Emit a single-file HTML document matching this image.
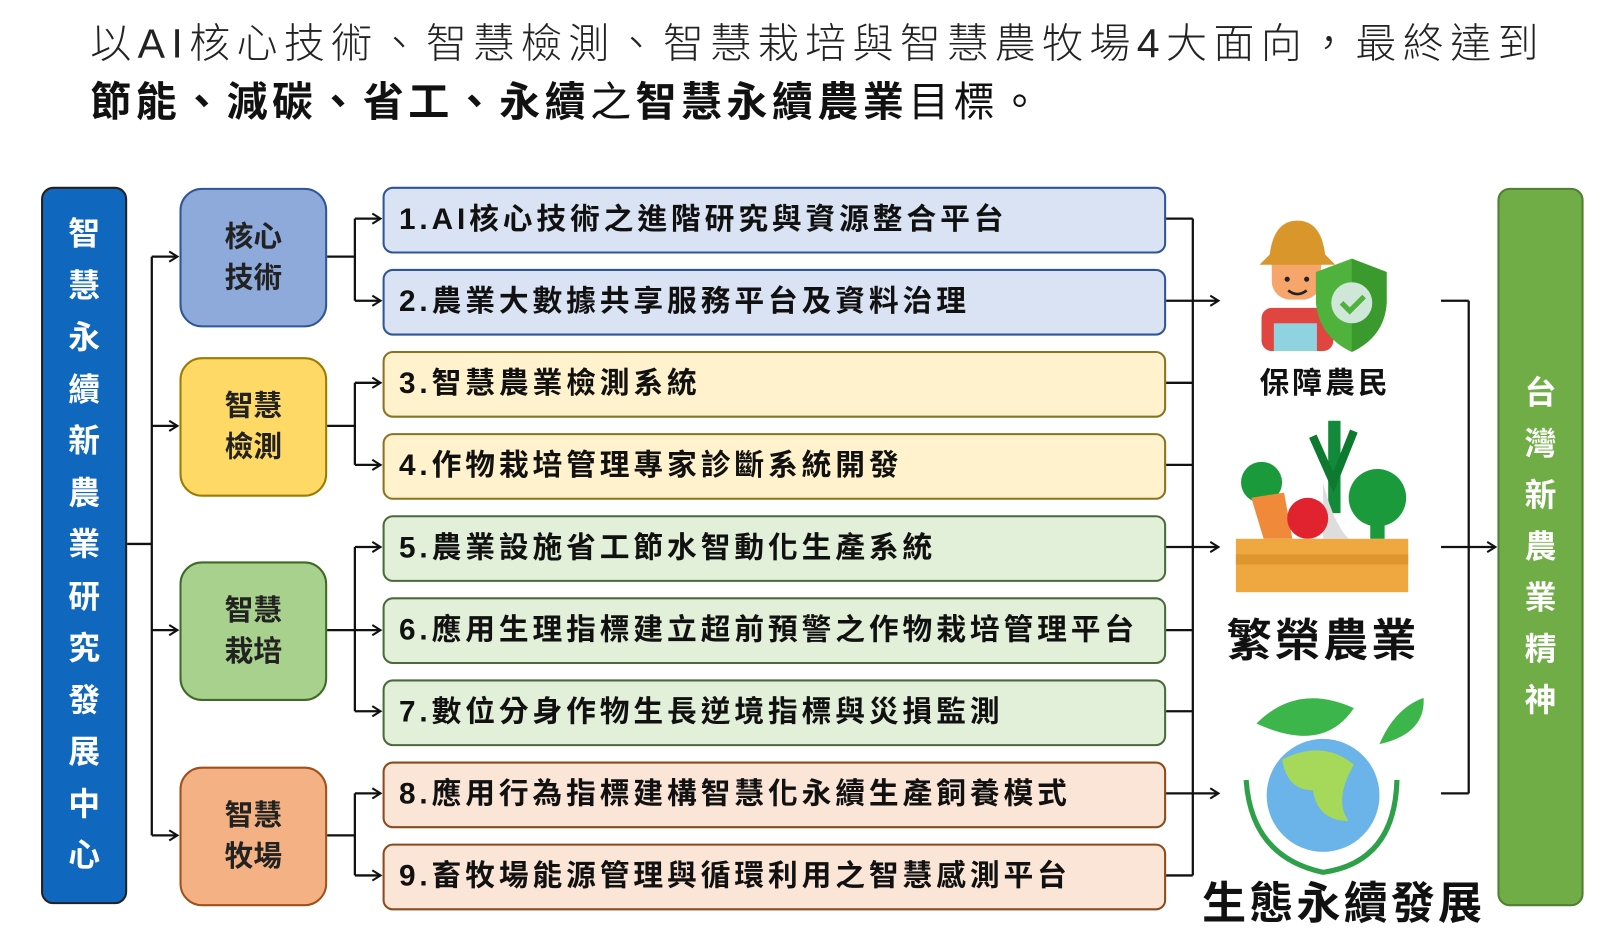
<!DOCTYPE html>
<html><head><meta charset="utf-8">
<style>
html,body{margin:0;padding:0;background:#fff;width:1600px;height:937px;overflow:hidden}
#w{position:absolute;left:0;top:0;width:1560px;height:913px;transform:scale(1.02564,1.0263);transform-origin:0 0;font-family:"Liberation Sans","Noto Sans CJK TC",sans-serif}
.a{position:absolute;box-sizing:border-box}
.t1{left:88px;top:18px;font-size:40px;font-weight:300;color:#222;white-space:nowrap;letter-spacing:6.2px;line-height:50px}
.t2{left:88px;top:75px;font-size:40px;color:#111;white-space:nowrap;line-height:50px;letter-spacing:4.3px}
.vb{border:2.5px solid #222;border-radius:12px;color:#fff;font-size:31px;font-weight:bold;text-align:center;display:flex;flex-direction:column;align-items:center;justify-content:center;line-height:50.5px}
.cat{left:175px;width:144px;height:136px;border:2.5px solid;border-radius:22px;display:flex;align-items:center;justify-content:center;text-align:center;font-size:28px;font-weight:bold;color:#222;line-height:40px}
.row{left:373px;width:764px;height:65px;border:2.5px solid;border-radius:10px;font-size:29px;font-weight:bold;color:#111;padding-left:14px;line-height:60px;white-space:nowrap;letter-spacing:3.8px}
.lab{font-weight:bold;color:#111;text-align:center;white-space:nowrap}
</style></head><body><div id="w">
<div class="a t1">以AI核心技術、智慧檢測、智慧栽培與智慧農牧場4大面向，最終達到</div>
<div class="a t2"><b>節能、減碳、省工、永續</b>之<b>智慧永續農業</b>目標。</div>

<div class="a vb" style="left:40px;top:182px;width:84px;height:699px;background:#1068be"><span>智</span><span>慧</span><span>永</span><span>續</span><span>新</span><span>農</span><span>業</span><span>研</span><span>究</span><span>發</span><span>展</span><span>中</span><span>心</span></div>
<div class="a vb" style="left:1460px;top:183px;width:84px;height:700px;background:#70ad47;border-color:#507e32;line-height:50px"><span>台</span><span>灣</span><span>新</span><span>農</span><span>業</span><span>精</span><span>神</span></div>

<div class="a cat" style="top:183px;background:#8eaadb;border-color:#2f5597">核心<br>技術</div>
<div class="a cat" style="top:348px;background:#ffd966;border-color:#9c7c00">智慧<br>檢測</div>
<div class="a cat" style="top:547px;background:#a9d18e;border-color:#3f6a26">智慧<br>栽培</div>
<div class="a cat" style="top:747px;background:#f4b183;border-color:#a0501a">智慧<br>牧場</div>

<div class="a row" style="top:182px;background:#dae3f3;border-color:#2f5597">1.AI核心技術之進階研究與資源整合平台</div>
<div class="a row" style="top:262px;background:#dae3f3;border-color:#2f5597">2.農業大數據共享服務平台及資料治理</div>
<div class="a row" style="top:342px;background:#fff2cc;border-color:#8a7220">3.智慧農業檢測系統</div>
<div class="a row" style="top:422px;background:#fff2cc;border-color:#8a7220">4.作物栽培管理專家診斷系統開發</div>
<div class="a row" style="top:502px;background:#e2f0d9;border-color:#4a6a3a">5.農業設施省工節水智動化生產系統</div>
<div class="a row" style="top:582px;background:#e2f0d9;border-color:#4a6a3a">6.應用生理指標建立超前預警之作物栽培管理平台</div>
<div class="a row" style="top:662px;background:#e2f0d9;border-color:#4a6a3a">7.數位分身作物生長逆境指標與災損監測</div>
<div class="a row" style="top:742px;background:#fbe5d6;border-color:#8a4a1c">8.應用行為指標建構智慧化永續生產飼養模式</div>
<div class="a row" style="top:822px;background:#fbe5d6;border-color:#8a4a1c">9.畜牧場能源管理與循環利用之智慧感測平台</div>

<svg class="a" style="left:0;top:0" width="1560" height="913">
<defs><marker id="m" markerWidth="12" markerHeight="12" refX="10" refY="6" orient="auto" markerUnits="userSpaceOnUse"><path d="M2,1 L10,6 L2,11" fill="none" stroke="#111" stroke-width="2"/></marker></defs>
<g stroke="#111" stroke-width="2.2" fill="none">
<path d="M124,530 H148 M148,250 V814"/>
<path d="M148,250 H173" marker-end="url(#m)"/><path d="M148,415 H173" marker-end="url(#m)"/><path d="M148,614 H173" marker-end="url(#m)"/><path d="M148,814 H173" marker-end="url(#m)"/>
<path d="M319,250 H346 M346,213 V293"/><path d="M346,213 H371" marker-end="url(#m)"/><path d="M346,293 H371" marker-end="url(#m)"/>
<path d="M319,415 H346 M346,373 V453"/><path d="M346,373 H371" marker-end="url(#m)"/><path d="M346,453 H371" marker-end="url(#m)"/>
<path d="M319,614 H346 M346,533 V693"/><path d="M346,533 H371" marker-end="url(#m)"/><path d="M346,614 H371" marker-end="url(#m)"/><path d="M346,693 H371" marker-end="url(#m)"/>
<path d="M319,814 H346 M346,773 V853"/><path d="M346,773 H371" marker-end="url(#m)"/><path d="M346,853 H371" marker-end="url(#m)"/>
<path d="M1137,213 H1163 M1137,373 H1163 M1137,453 H1163 M1137,614 H1163 M1137,693 H1163 M1137,853 H1163 M1163,213 V853"/>
<path d="M1137,293 H1188" marker-end="url(#m)"/><path d="M1137,533 H1188" marker-end="url(#m)"/><path d="M1137,773 H1188" marker-end="url(#m)"/>
<path d="M1405,293 H1432 M1405,773 H1432 M1432,293 V773"/><path d="M1405,533 H1458" marker-end="url(#m)"/>
</g>
<g>
<rect x="1230" y="300" width="70" height="42" rx="10" fill="#e0453f"/>
<rect x="1242" y="315" width="42" height="27" fill="#8fd3e0"/>
<rect x="1240" y="230" width="48" height="62" rx="18" fill="#f6a56b"/>
<path d="M1228,258 H1302 L1292,248 Q1288,215 1265,215 Q1242,215 1238,248 Z" fill="#d9962a"/>
<circle cx="1255" cy="272" r="2.5" fill="#222"/><circle cx="1274" cy="272" r="2.5" fill="#222"/>
<path d="M1256,283 Q1265,290 1274,283" stroke="#222" stroke-width="2.5" fill="none"/>
<path d="M1283,265 L1318,252 L1352,265 V295 Q1350,328 1318,343 Q1286,328 1283,295 Z" fill="#4fb23c"/>
<path d="M1318,252 L1352,265 V295 Q1350,328 1318,343 Z" fill="#3a9a2e"/>
<circle cx="1318" cy="295" r="20" fill="#cfe7d8"/>
<path d="M1308,295 L1316,303 L1330,289" stroke="#4fb23c" stroke-width="5" fill="none"/>
</g>
<g>
<rect x="1295" y="410" width="12" height="90" fill="#138a3a"/>
<path d="M1280,425 L1300,470 L1320,420" stroke="#0d7a30" stroke-width="8" fill="none"/>
<path d="M1290,470 Q1300,510 1315,525 H1290 Z" fill="#ddd"/>
<circle cx="1230" cy="470" r="20" fill="#1a9a3a"/>
<path d="M1220,485 L1252,480 L1260,525 H1232 Z" fill="#f08a3a"/>
<circle cx="1275" cy="505" r="20" fill="#e0232e"/>
<circle cx="1343" cy="485" r="28" fill="#1a9a3a"/><rect x="1336" y="500" width="14" height="25" fill="#1a9a3a"/>
<rect x="1205" y="525" width="168" height="52" fill="#efa83f"/>
<rect x="1205" y="540" width="168" height="10" fill="#e0962e"/>
</g>
<g>
<circle cx="1290" cy="775" r="55" fill="#6ab4ea"/>
<path d="M1250,740 Q1290,720 1320,745 Q1300,780 1315,800 Q1285,800 1280,770 Q1255,770 1250,740 Z" fill="#a6d85a"/>
<path d="M1215,760 Q1220,835 1290,850 Q1360,840 1362,760" stroke="#2fa04a" stroke-width="5" fill="none"/>
<path d="M1225,705 Q1265,665 1320,690 Q1290,735 1225,705 Z" fill="#3cb54a"/>
<path d="M1345,725 Q1360,690 1388,680 Q1390,715 1345,725 Z" fill="#3cb54a"/>
</g>
</svg>
<div class="a lab" style="left:1192px;top:350px;width:200px;font-size:29px;letter-spacing:3px">保障農民</div>
<div class="a lab" style="left:1150px;top:588px;width:280px;font-size:44px;letter-spacing:3px">繁榮農業</div>
<div class="a lab" style="left:1150px;top:846px;width:320px;font-size:43px;letter-spacing:3px">生態永續發展</div>
</div></body></html>
